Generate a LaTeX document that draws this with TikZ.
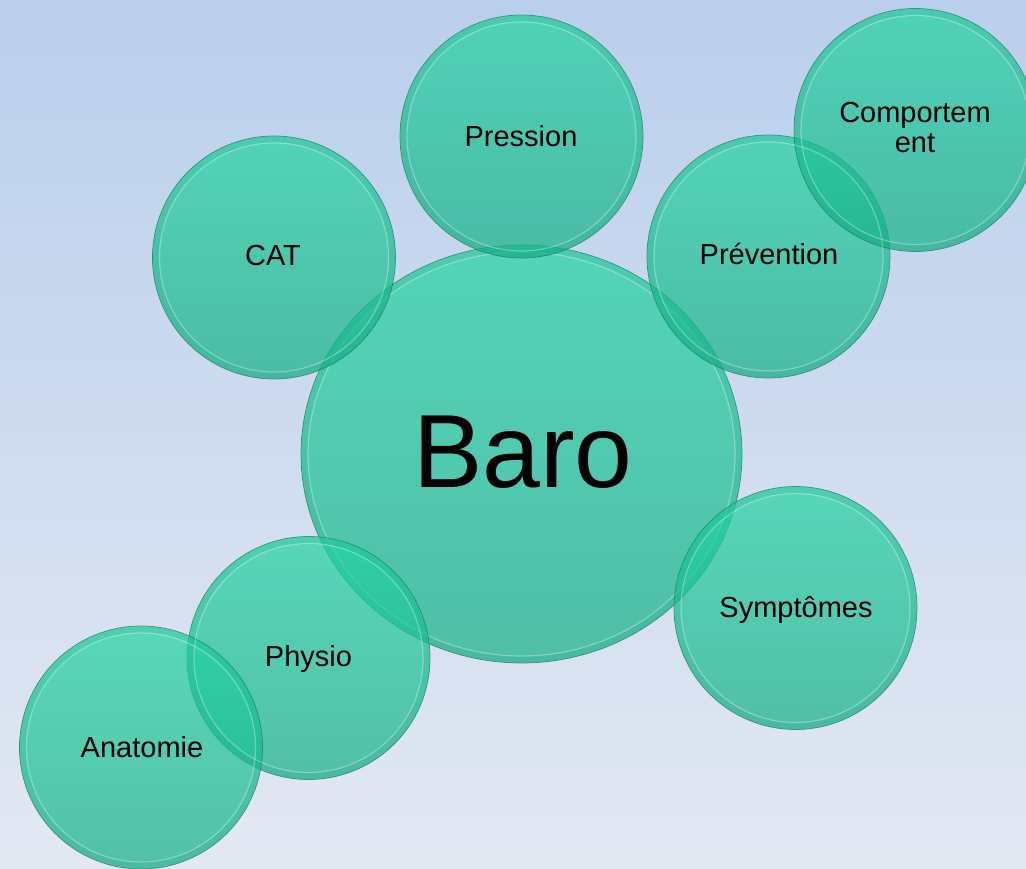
\documentclass[tikz,border=0pt]{standalone}
\usepackage{fontspec}
\setmainfont{Liberation Sans}
\usetikzlibrary{shapes.geometric}
\definecolor{bgtop}{RGB}{186,207,236}
\definecolor{bgbot}{RGB}{227,232,243}
\definecolor{bubtop}{RGB}{35,212,162}
\definecolor{bubbot}{RGB}{22,176,136}
\definecolor{bubline}{RGB}{28,125,100}
\definecolor{bandcol}{RGB}{20,150,120}
\tikzset{
  bubble/.style={circle, minimum size=243pt, inner sep=0pt,
    top color=bubtop, bottom color=bubbot, fill opacity=0.7,
    draw=bubline, draw opacity=0.75, line width=0.7pt},
  bigbubble/.style={ellipse, minimum width=441pt, minimum height=418pt, inner sep=0pt,
    top color=bubtop, bottom color=bubbot, fill opacity=0.7,
    draw=bubline, draw opacity=0.75, line width=0.7pt},
  band/.style={draw=bandcol, draw opacity=0.12, line width=6pt},
  rim/.style={draw=white, draw opacity=0.3, line width=1.2pt},
  lbl/.style={anchor=base, font=\fontsize{29}{30}\selectfont, text=black, inner sep=0pt},
  biglbl/.style={anchor=base, font=\fontsize{104}{110}\selectfont, text=black, inner sep=0pt},
}
\begin{document}
\begin{tikzpicture}[x=1pt,y=1pt]
\useasboundingbox (0,0) rectangle (1026,868);
\clip (0,0) rectangle (1026,868);
\shade[top color=bgtop, bottom color=bgbot] (0,0) rectangle (1026,868);

% central bubble
\node[bigbubble] (baro) at (521.5,414) {};
\draw[band] (baro.center) ellipse [x radius=217, y radius=205.5];
\draw[rim] (baro.center) ellipse [x radius=213.5, y radius=202];

% satellites
\node[bubble] (pres) at (521.5,731.5) {};
\node[bubble] (cat) at (274,610.5) {};
\node[bubble] (prev) at (768.5,611.5) {};
\node[bubble] (comp) at (915.5,738) {};
\node[bubble] (symp) at (795.5,260) {};
\node[bubble] (phys) at (308.5,210) {};
\node[bubble] (anat) at (141,120.5) {};
\foreach \n in {pres,cat,prev,comp,symp,phys,anat}{
  \draw[band] (\n.center) circle (118);
  \draw[rim] (\n.center) circle (114.5);
}

% labels
\node[biglbl] (tbaro) at (523,380) {Baro};
\node[lbl] (tpres) at (521,721) {Pression};
\node[lbl] (tcat) at (273,602) {CAT};
\node[lbl] (tprev) at (769,603) {Prévention};
\node[lbl] (tcomp1) at (915,745) {Comportem};
\node[lbl] (tcomp2) at (915,715) {ent};
\node[lbl] (tsymp) at (796,250) {Symptômes};
\node[lbl] (tphys) at (308.5,201) {Physio};
\node[lbl] (tanat) at (142,110) {Anatomie};
\end{tikzpicture}
\end{document}
